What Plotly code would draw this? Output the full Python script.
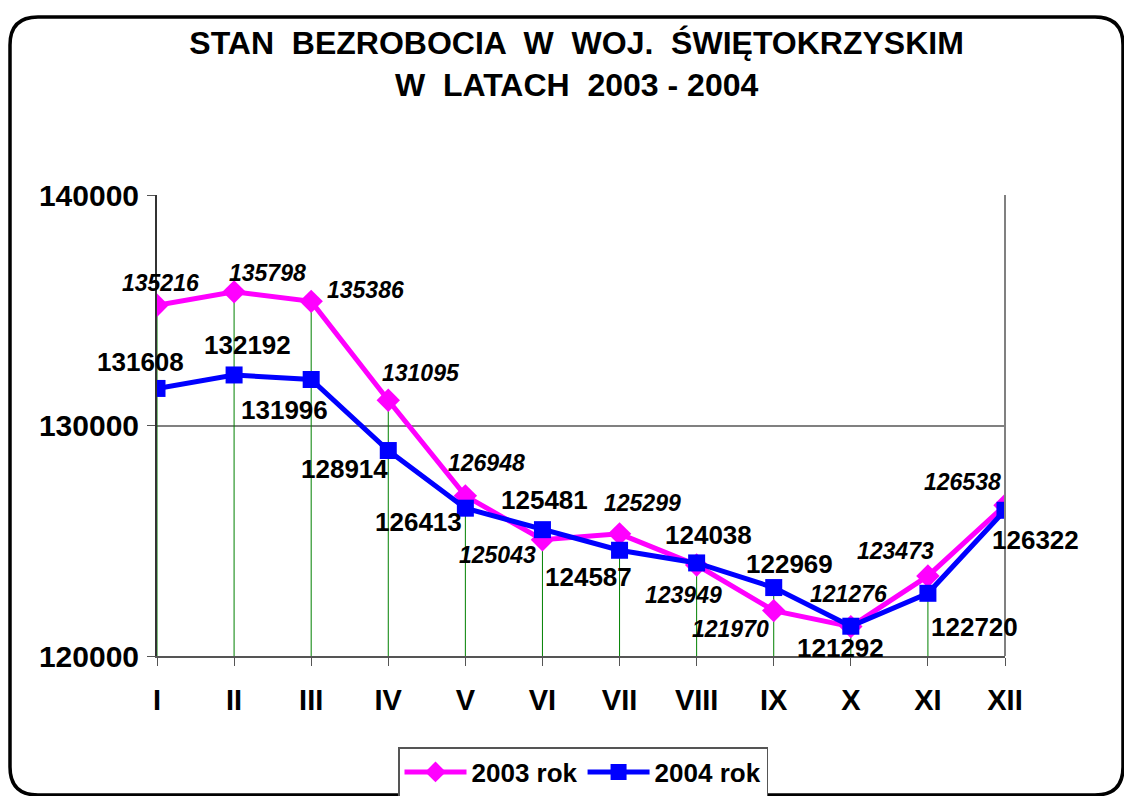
import plotly.graph_objects as go

months = ["I", "II", "III", "IV", "V", "VI", "VII", "VIII", "IX", "X", "XI", "XII"]
y2003 = [135216, 135798, 135386, 131095, 126948, 125043, 125299, 123949, 121970, 121276, 123473, 126538]
y2004 = [131608, 132192, 131996, 128914, 126413, 125481, 124587, 124038, 122969, 121292, 122720, 126322]
yticks = [120000, 130000, 140000]

# label pixel offsets (layout only)
off2003 = [(3, 22), (33, 19), (54, 11), (33, 27), (21, 33), (-45, -15), (23, 31), (-13, -30), (-43, -18), (-2, 33), (-32, 25), (-43, 23)]
off2004 = [(-17, 26), (13, 30), (-27, -31), (-44, -18), (-47, -14), (2, 30), (-31, -27), (12, 28), (16, 24), (-10, -22), (47, -34), (30, -30)]

FONT = "Liberation Sans, Arial, sans-serif"
idx = list(range(len(months)))

fig = go.Figure()

# drop lines from the higher of the two series
dx, dy = [], []
for i in idx:
    dx += [i, i, None]
    dy += [yticks[0], max(y2003[i], y2004[i]), None]
fig.add_trace(go.Scatter(x=dx, y=dy, mode="lines", line=dict(color="#008000", width=1),
                         showlegend=False, hoverinfo="skip"))

fig.add_trace(go.Scatter(x=idx, y=y2003, mode="lines+markers", name="2003 rok",
                         line=dict(color="#FF00FF", width=5),
                         marker=dict(symbol="diamond", size=18, color="#FF00FF")))
fig.add_trace(go.Scatter(x=idx, y=y2004, mode="lines+markers", name="2004 rok",
                         line=dict(color="#0000FF", width=5),
                         marker=dict(symbol="square", size=17, color="#0000FF")))

ann = []
for i in idx:
    ann.append(dict(x=i, y=y2003[i], text=f"<i>{y2003[i]}</i>", showarrow=False,
                    xshift=off2003[i][0], yshift=off2003[i][1],
                    font=dict(family=FONT, size=23, color="black", weight="bold")))
    ann.append(dict(x=i, y=y2004[i], text=f"{y2004[i]}", showarrow=False,
                    xshift=off2004[i][0], yshift=off2004[i][1],
                    font=dict(family=FONT, size=26, color="black", weight="bold")))

# outer rounded frame (paper coords relative to plot domain)
L, R, T, B = 157, 1005, 195, 656
def px(xp):
    return (xp - L) / (R - L)
def py(yp):
    return (B - yp) / (B - T)
fx0, fx1, fy0, fy1 = px(10), px(1123), py(795), py(17)
rx, ry = 28 / (R - L), 28 / (B - T)
path = (f"M {fx0},{fy0+ry} L {fx0},{fy1-ry} Q {fx0},{fy1} {fx0+rx},{fy1} "
        f"L {fx1-rx},{fy1} Q {fx1},{fy1} {fx1},{fy1-ry} "
        f"L {fx1},{fy0+ry} Q {fx1},{fy0} {fx1-rx},{fy0} "
        f"L {fx0+rx},{fy0} Q {fx0},{fy0} {fx0},{fy0+ry} Z")

fig.update_layout(
    width=1124, height=796,
    margin=dict(l=L, r=1124 - R, t=T, b=796 - B, autoexpand=False),
    paper_bgcolor="white", plot_bgcolor="white",
    title=dict(text="STAN  BEZROBOCIA  W  WOJ.  ŚWIĘTOKRZYSKIM<br>W  LATACH  2003 - 2004",
               x=0.513, xanchor="center", y=1 - 54 / 796, yanchor="top",
               font=dict(family=FONT, size=32, color="black", weight="bold")),
    font=dict(family=FONT, color="black"),
    showlegend=True,
    legend=dict(orientation="h", x=px(398), xanchor="left", y=py(747), yanchor="top",
                xref="paper", yref="paper",
                bordercolor="#555555", borderwidth=1.5, bgcolor="white",
                font=dict(family=FONT, size=26, color="black", weight="bold"),
                itemwidth=62, tracegroupgap=0),
    annotations=ann,
    shapes=[dict(type="path", path=path, xref="paper", yref="paper",
                 line=dict(color="black", width=3.5), layer="above"),
            dict(type="line", xref="paper", yref="paper", x0=1, x1=1, y0=0, y1=1,
                 line=dict(color="#808080", width=2))],
)

fig.update_xaxes(range=[0, 11], tickmode="array", tickvals=idx, ticktext=months,
                 showgrid=False, zeroline=False, showline=True, linecolor="#555555", linewidth=2,
                 ticks="outside", ticklen=8, tickcolor="#555555", tickwidth=1,
                 ticklabelstandoff=9, automargin=False,
                 tickfont=dict(family=FONT, size=29, color="black", weight="bold"))
fig.update_yaxes(range=[yticks[0], yticks[-1]], tickmode="array", tickvals=yticks,
                 ticktext=[str(v) for v in yticks],
                 showgrid=True, gridcolor="#808080", gridwidth=2, zeroline=False,
                 showline=True, linecolor="#333333", linewidth=2,
                 ticks="outside", ticklen=8, tickcolor="#555555",
                 ticklabelstandoff=2, automargin=False,
                 tickfont=dict(family=FONT, size=30, color="black", weight="bold"))

fig.write_html("out.html", config={"displayModeBar": False},
               post_script="document.body.style.margin='0px';")
